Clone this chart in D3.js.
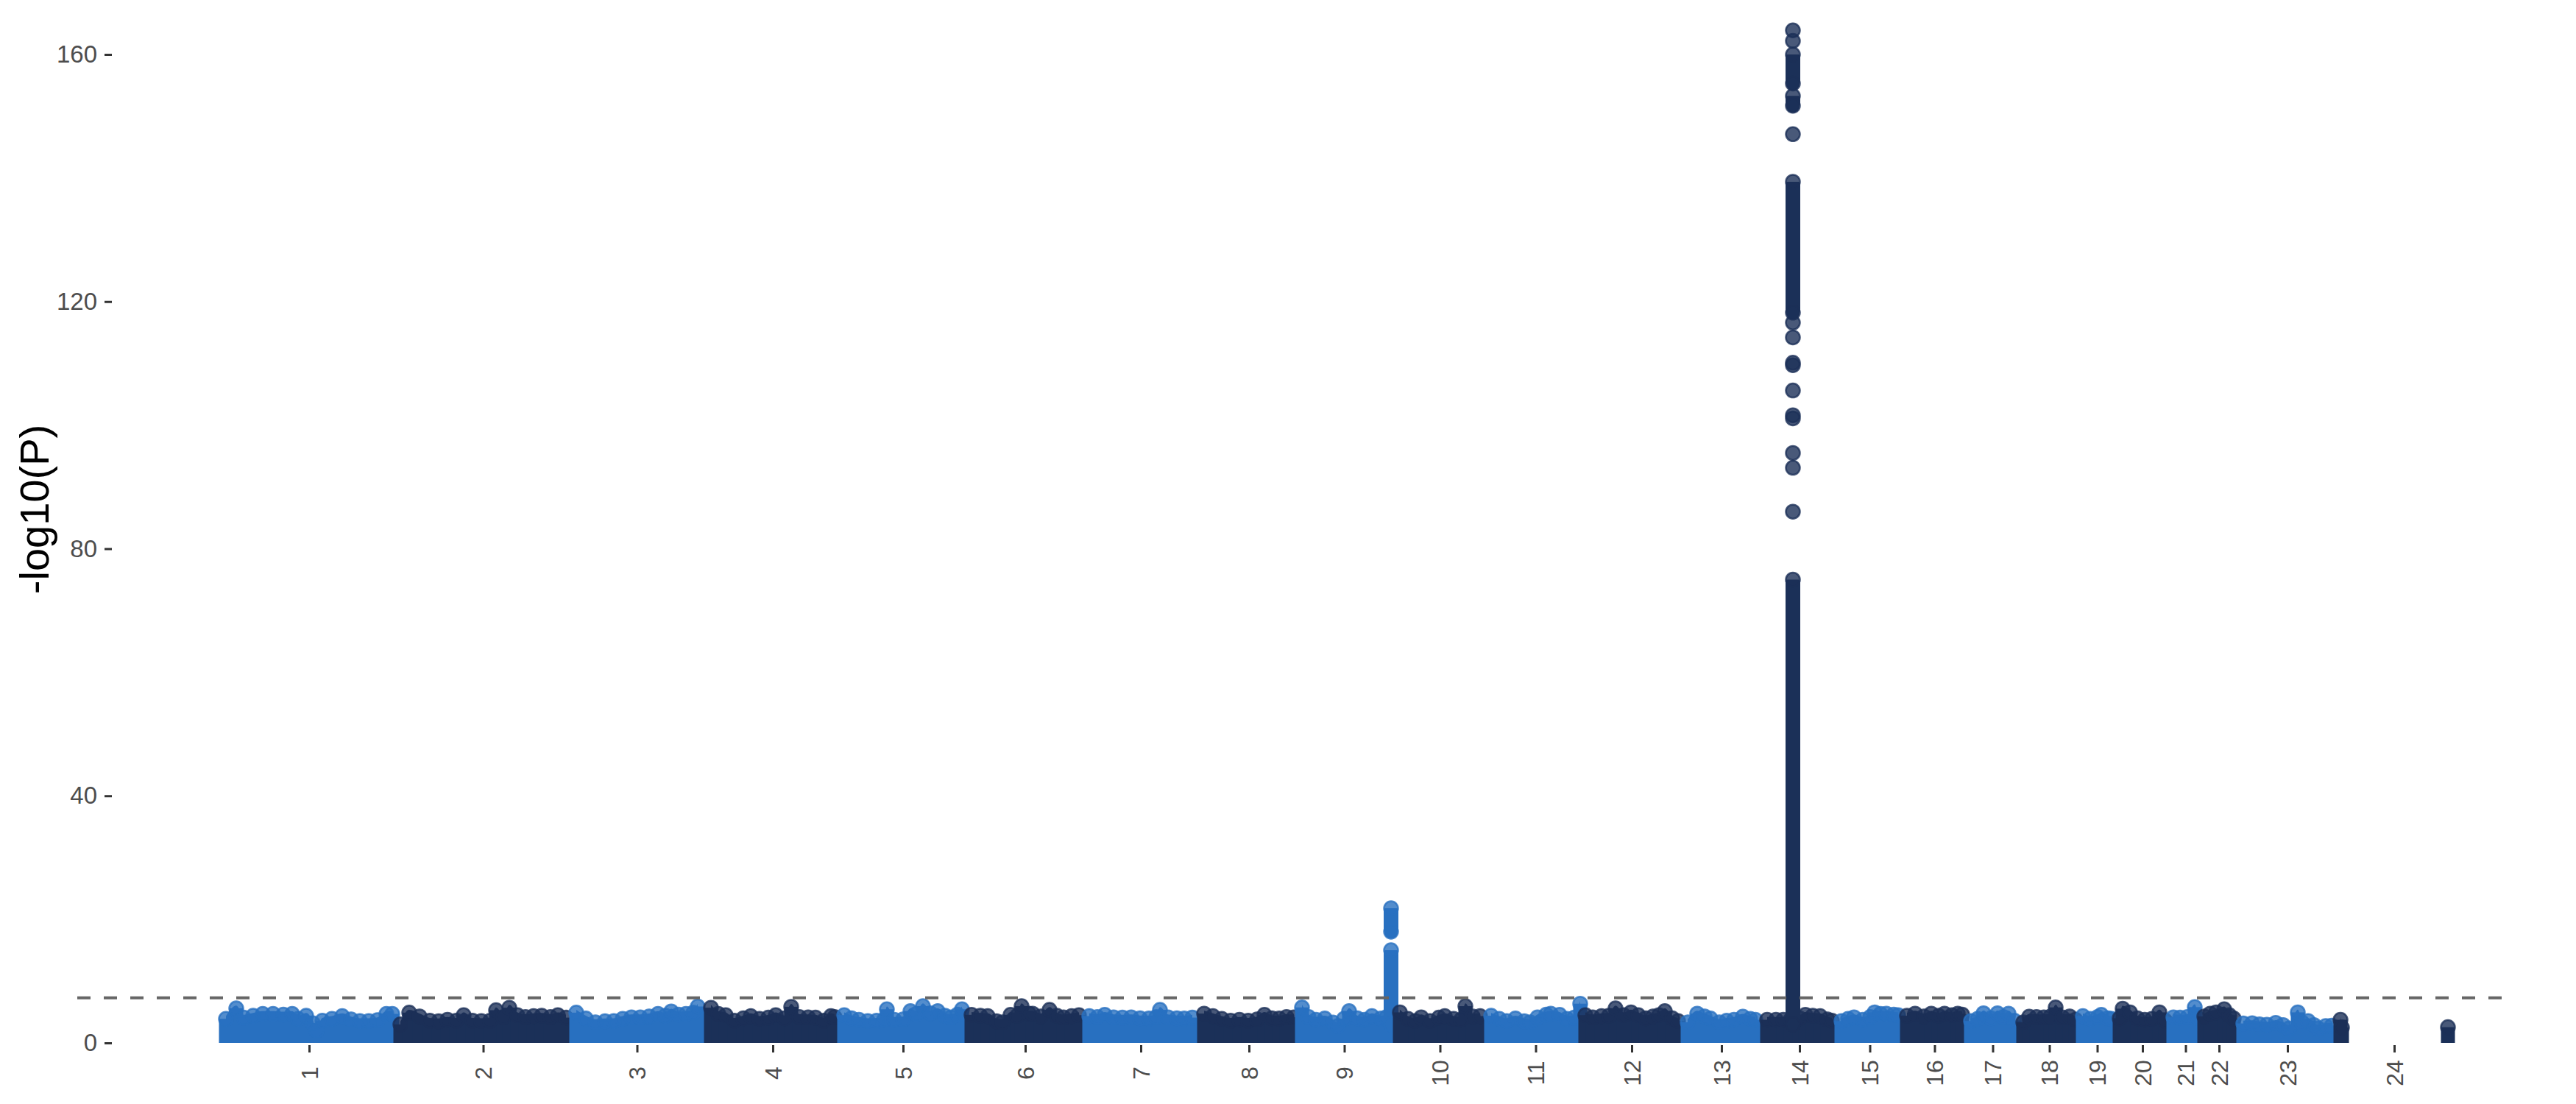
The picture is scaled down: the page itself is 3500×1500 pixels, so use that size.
<!DOCTYPE html>
<html><head><meta charset="utf-8">
<script src="https://cdn.jsdelivr.net/npm/d3@7/dist/d3.min.js"></script>
<style>body{margin:0;background:#fff}</style>
</head><body>
<svg id="chart" width="3500" height="1500"></svg>
<script>
// ---------------- DATA ----------------
const chromosomes = ["1","2","3","4","5","6","7","8","9","10","11","12","13","14","15","16","17","18","19","20","21","22","23","24"];
// chromosome lengths (Mb)
const chromLengths = [239,238,180,183,171,163,155,138,127,126,127,138,109,100,91,85,73,82,48,74,43,49,137,160];
// upper envelope of the dense SNP cloud: [position within chromosome (Mb), -log10(P)]
const skyline = [
  [[8,3.9],[22,5.6],[32,4.1],[45,4.4],[58,4.7],[72,4.7],[86,4.6],[98,4.7],[106,3.9],[117,4.4],[126,3.2],[131,2.0],[139,3.6],[152,3.9],[166,4.35],[178,3.8],[190,3.55],[202,3.55],[214,3.7],[226,4.7],[234,4.7]],
  [[6,3.0],[18,4.9],[32,4.3],[46,3.6],[58,3.5],[70,3.75],[82,3.6],[92,4.5],[104,3.6],[116,3.55],[128,3.6],[136,5.3],[146,4.2],[154,5.7],[165,4.5],[176,4.2],[187,4.35],[198,4.4],[210,4.2],[220,4.5],[231,4.1]],
  [[7,4.9],[20,3.95],[33,3.35],[46,3.5],[58,3.55],[70,3.9],[82,4.15],[94,4.15],[106,4.3],[118,4.7],[128,4.4],[136,5.1],[146,4.6],[156,4.7],[166,4.9],[172,5.9]],
  [[10,5.7],[20,4.7],[30,4.5],[42,3.6],[54,4.0],[64,4.35],[76,3.9],[88,4.1],[98,4.5],[110,4.0],[119,5.85],[130,4.2],[142,4.15],[152,4.1],[163,3.6],[173,4.35],[178,4.2]],
  [[8,4.5],[18,4.0],[28,3.75],[40,3.55],[52,3.6],[62,3.75],[66,5.45],[76,3.75],[88,3.8],[98,5.15],[106,4.7],[115,5.95],[125,4.8],[135,5.15],[145,4.4],[153,4.15],[162,4.6],[168,5.45]],
  [[10,4.55],[22,4.4],[32,4.35],[44,3.5],[52,3.35],[63,4.55],[72,4.4],[78,5.95],[88,4.75],[93,4.75],[104,4.3],[116,5.35],[126,4.4],[135,4.15],[146,4.35],[156,4.5]],
  [[7,4.35],[18,4.2],[28,4.55],[40,4.15],[52,4.1],[64,4.15],[76,4.0],[88,3.95],[98,4.2],[103,5.35],[114,4.15],[126,4.0],[136,3.95],[147,4.1]],
  [[8,4.75],[20,4.35],[32,3.9],[44,3.6],[56,3.75],[68,3.6],[80,3.8],[90,4.55],[100,4.0],[110,3.95],[120,4.2],[130,4.15]],
  [[3,5.75],[12,4.2],[22,3.75],[34,3.95],[45,3.3],[52,2.75],[60,3.9],[67,5.15],[78,4.0],[88,3.75],[98,4.35],[110,3.95],[118,4.2]],
  [[9,4.95],[20,3.9],[30,3.55],[38,4.15],[50,3.55],[62,4.1],[70,4.35],[82,3.9],[92,3.75],[98,5.95],[108,4.3],[118,4.35]],
  [[7,4.4],[18,3.9],[28,3.55],[40,3.95],[52,3.5],[60,3.35],[70,4.15],[82,4.6],[88,4.75],[100,4.55],[110,3.9],[120,4.1],[128,6.35]],
  [[8,4.5],[18,4.15],[30,4.35],[40,4.4],[49,5.6],[60,4.5],[70,4.95],[80,4.5],[90,4.0],[100,4.3],[108,4.5],[116,5.15],[126,4.0],[134,3.55]],
  [[9,3.35],[22,4.75],[32,4.3],[40,3.95],[52,3.35],[62,3.6],[72,3.75],[84,4.25],[94,3.9],[101,3.75]],
  [[8,3.75],[20,3.75],[30,3.75],[40,3.8],[52,4.0],[60,4.55],[70,4.4],[80,4.35],[90,3.8],[96,3.6]],
  [[9,3.55],[18,3.9],[26,4.15],[38,3.75],[48,4.2],[54,4.95],[62,4.7],[70,4.75],[80,4.6],[86,4.5]],
  [[7,4.4],[18,4.75],[30,4.3],[40,4.75],[50,4.4],[58,4.75],[68,4.5],[76,4.75],[82,4.6]],
  [[9,3.55],[18,3.9],[26,4.8],[36,4.0],[45,4.8],[53,4.2],[60,4.75],[68,3.6]],
  [[7,3.35],[15,4.25],[25,4.2],[35,4.15],[44,4.3],[51,5.75],[60,4.15],[70,4.3],[78,3.75]],
  [[6,4.35],[16,3.9],[26,4.2],[31,4.55],[40,4.0],[45,3.9]],
  [[8,4.0],[12,5.55],[22,4.95],[32,4.0],[42,3.75],[52,3.9],[62,4.95],[70,3.6]],
  [[7,4.15],[16,4.1],[26,4.2],[36,5.8],[40,4.1]],
  [[6,4.3],[14,4.75],[22,4.95],[33,5.45],[40,4.5],[46,3.95]],
  [[10,3.15],[22,3.2],[32,3.0],[42,2.95],[54,3.25],[64,2.9],[72,2.35],[84,4.95],[90,3.3],[98,3.55],[106,2.9],[112,2.35],[122,2.75],[130,2.8]],
  [[5,3.75],[7,2.5],[151,2.55]]
];
// associated loci: solid runs of overlapping SNPs [top, bottom] and isolated SNPs
const peakChr9Pos = 124;
const peakChr9Runs = [[21.8,18.0],[15.0,3.0]];
const peakChr9Single = [21.8,15.0];
const peakChr14Pos = 43;
const peakChr14Runs = [[160.0,155.3],[153.3,151.7],[139.4,118.2],[75.0,3.0]];
const peakChr14Single = [163.9,162.2,160.0,153.3,147.1,139.4,116.6,114.2,110.1,109.7,105.6,101.6,101.1,95.5,93.1,86.0,75.0];
const yTickValues = [0,40,80,120,160];
const genomeWideSig = 7.3;
const chrColors = ["#2870C0", "#1B3058"];

// ---------------- CHART ----------------
const svg = d3.select("#chart");
const font = "'Liberation Sans', Arial, Helvetica, sans-serif";
const R = 9.5;

const offsets = [];
let acc = 0;
chromLengths.forEach(l => { offsets.push(acc); acc += l; });
const total = acc;

const x = d3.scaleLinear().domain([0, total]).range([299, 3335]);
const y = d3.scaleLinear().domain([0, 160]).range([1417, 74]);

const plot = svg.append("g");

function dot(sel, col) {
  return sel.attr("r", R)
    .attr("fill", col).attr("fill-opacity", 0.8)
    .attr("stroke", col).attr("stroke-opacity", 0.8).attr("stroke-width", 2.5);
}

chromosomes.forEach((c, i) => {
  const col = chrColors[i % 2];
  const g = plot.append("g");
  const pts = skyline[i].map(([p, v]) => ({ p, x: x(offsets[i] + p), v }));
  // split the cloud into contiguous segments
  const segs = [];
  pts.forEach((d, k) => {
    if (k === 0 || d.p - pts[k - 1].p > 40) segs.push([]);
    segs[segs.length - 1].push(d);
  });
  segs.filter(s => s.length > 1).forEach(s => {
    g.append("path").datum(s)
      .attr("d", d3.area().x(d => d.x).y0(y(0)).y1(d => y(d.v) - R * 0.4).curve(d3.curveMonotoneX))
      .attr("fill", col);
  });
  g.selectAll("rect.m").data(pts).join("rect").attr("class", "m")
    .attr("x", d => d.x - R).attr("width", 2 * R)
    .attr("y", d => y(d.v)).attr("height", d => y(0) - y(d.v))
    .attr("fill", col);
  dot(g.selectAll("circle.s").data(pts).join("circle").attr("class", "s")
    .attr("cx", d => d.x).attr("cy", d => y(d.v)), col);

  let peak = null;
  if (c === "9") peak = { pos: peakChr9Pos, runs: peakChr9Runs, single: peakChr9Single };
  if (c === "14") peak = { pos: peakChr14Pos, runs: peakChr14Runs, single: peakChr14Single };
  if (peak) {
    const px = x(offsets[i] + peak.pos);
    g.selectAll("rect.p").data(peak.runs).join("rect").attr("class", "p")
      .attr("x", px - R - 0.5).attr("width", 2 * R + 1)
      .attr("y", d => y(d[0])).attr("height", d => y(d[1]) - y(d[0]))
      .attr("rx", 2).attr("fill", col);
    dot(g.selectAll("circle.p").data(peak.single).join("circle").attr("class", "p")
      .attr("cx", px).attr("cy", d => y(d)), col);
    dot(g.selectAll("circle.q").data(peak.runs).join("circle").attr("class", "q")
      .attr("cx", px).attr("cy", d => y(d[1])), col).attr("fill-opacity", 1);
  }
});

// genome-wide significance line
svg.append("line")
  .attr("x1", 105).attr("x2", 3415)
  .attr("y1", y(genomeWideSig)).attr("y2", y(genomeWideSig))
  .attr("stroke", "#666666").attr("stroke-width", 4).attr("stroke-dasharray", "18,18");

// y axis
const yAxis = svg.append("g").attr("transform", "translate(152,0)")
  .call(d3.axisLeft(y).tickValues(yTickValues).tickSize(10).tickPadding(10));
yAxis.select(".domain").remove();
yAxis.selectAll(".tick line").attr("stroke", "#333333").attr("stroke-width", 3);
yAxis.selectAll(".tick text").attr("fill", "#4D4D4D").attr("font-size", 33).attr("font-family", font);

// x axis
const tickPos = chromosomes.map((c, i) => {
  const ext = d3.extent(skyline[i], d => d[0]);
  return offsets[i] + (ext[0] + ext[1]) / 2;
});
const xAxis = svg.append("g").attr("transform", "translate(0,1420)")
  .call(d3.axisBottom(x).tickValues(tickPos).tickFormat((d, i) => chromosomes[i]).tickSize(10));
xAxis.select(".domain").remove();
xAxis.selectAll(".tick line").attr("stroke", "#333333").attr("stroke-width", 3);
xAxis.selectAll(".tick text")
  .attr("fill", "#4D4D4D").attr("font-size", 32).attr("font-family", font)
  .attr("text-anchor", "middle").attr("dy", null).attr("y", null)
  .attr("dominant-baseline", "central")
  .attr("transform", "translate(0,38) rotate(-90)");

// y title
svg.append("text")
  .attr("transform", "translate(46,692) rotate(-90)")
  .attr("text-anchor", "middle").attr("dominant-baseline", "central")
  .attr("font-family", font).attr("font-size", 56).attr("fill", "#000")
  .text("-log10(P)");
</script>
</body></html>
